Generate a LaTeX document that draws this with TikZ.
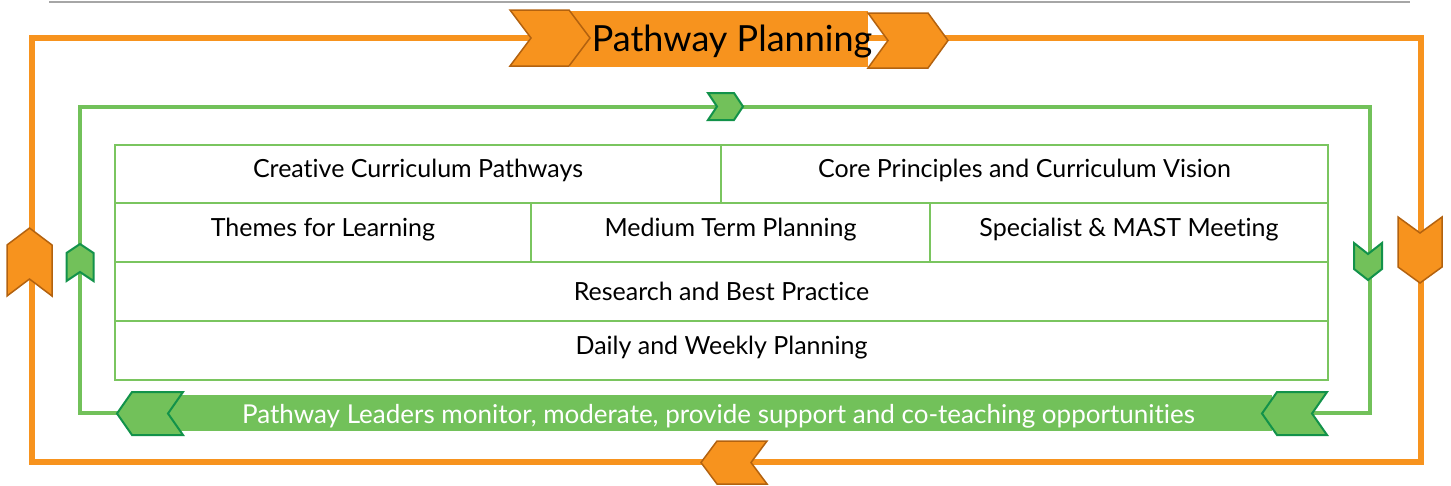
\documentclass[tikz,border=0pt]{standalone}
\usepackage{fontspec}
\setmainfont{Lato}[Ligatures=NoCommon]
\usetikzlibrary{positioning}

\definecolor{pathorange}{HTML}{F7931E}
\definecolor{pathorangedark}{HTML}{B3620F}
\definecolor{pathgreen}{HTML}{72C15A}
\definecolor{pathgreendark}{HTML}{12924A}
\definecolor{cellgreen}{HTML}{7AC55F}

\tikzset{
  pics/chevron/.style n args={3}{code={
    \path[pic actions] (-#1/2,#2/2) -- (#1/2-#3,#2/2) -- (#1/2,0) -- (#1/2-#3,-#2/2)
      -- (-#1/2,-#2/2) -- (-#1/2+#3,0) -- cycle;
  }}
}

\begin{document}
\begin{tikzpicture}[x=1pt,y=-1pt,
    orangechev/.style={fill=pathorange,draw=pathorangedark,line width=1.5pt},
    greenchev/.style={fill=pathgreen,draw=pathgreendark,line width=2pt},
    cell/.style={draw=cellgreen,line width=2.5pt,minimum height=59pt,inner sep=0pt,
      text height=6pt,text depth=0pt,font=\fontsize{25}{28}\selectfont},
    band/.style={inner sep=0pt,outer sep=0pt}
]
\useasboundingbox (0,0) rectangle (1451,485);

% top rule and the two loops
\draw[gray!70,line width=2pt] (49,1.5) -- (1410,1.5);
\draw[pathorange,line width=6pt] (32,38) rectangle (1421,462);
\draw[pathgreen,line width=4pt] (80,107) rectangle (1370,413);

% planning table
\node[cell,minimum width=606pt,minimum height=58pt] (pathways) at (418,174) {Creative Curriculum Pathways};
\node[cell,minimum width=607pt,minimum height=58pt] (vision) at (1024.5,174) {Core Principles and Curriculum Vision};
\node[cell,minimum width=416pt,text height=7pt] (themes) at (323,232.5) {Themes for Learning};
\node[cell,minimum width=399pt,text height=7pt] (medium) at (730.5,232.5) {Medium Term Planning};
\node[cell,minimum width=398pt,text height=7pt] (mast) at (1129,232.5) {Specialist \& MAST Meeting};
\node[cell,minimum width=1213pt,text height=17pt] (research) at (721.5,291.5) {Research and Best Practice};
\node[cell,minimum width=1213pt,text height=7pt] (daily) at (721.5,350.5) {Daily and Weekly Planning};

% title band
\node[band,fill=pathorange,minimum width=298pt,minimum height=56pt] (titleband) at (719,39) {};
\pic[orangechev] at (550,38) {chevron={80}{56}{21}};
\pic[orangechev] at (908,40.5) {chevron={80}{55}{20}};
\node[text height=23pt,text depth=0pt,font=\fontsize{36}{40}\selectfont] (title) at (732,40) {Pathway Planning};

% leaders band
\node[band,fill=pathgreen,minimum width=1107pt,minimum height=36pt,text=white,
  text height=20pt,text depth=0pt,font=\fontsize{26}{29}\selectfont] (leaders) at (718.5,413)
  {Pathway Leaders monitor, moderate, provide support and co-teaching opportunities};
\pic[greenchev,rotate=180] at (150,413.5) {chevron={66}{43}{15}};
\pic[greenchev,rotate=180] at (1294.5,413.5) {chevron={65}{43}{15}};

% direction marks
\pic[greenchev] at (725.5,106.5) {chevron={35}{27}{9}};
\pic[greenchev,rotate=90] at (80,262.5) {chevron={37}{27}{9}};
\pic[greenchev,rotate=-90] at (1368,261.5) {chevron={37}{28}{11}};
\pic[orangechev,rotate=90] at (29.5,262) {chevron={68}{45}{17}};
\pic[orangechev,rotate=-90] at (1420,250) {chevron={66}{44}{16}};
\pic[orangechev,rotate=180] at (734,462.5) {chevron={66}{43}{16}};

\end{tikzpicture}
\end{document}
